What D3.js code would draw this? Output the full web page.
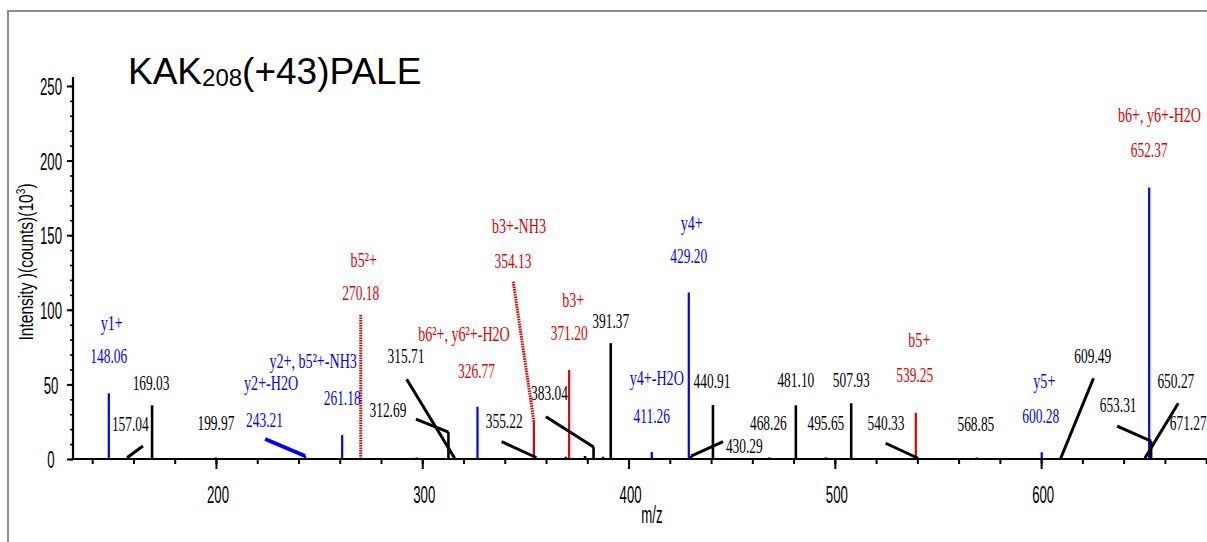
<!DOCTYPE html>
<html>
<head>
<meta charset="utf-8">
<script src="https://cdn.jsdelivr.net/npm/d3@7"></script>
<style>
  html, body { margin: 0; padding: 0; background: #fff; }
  svg { display: block; }
</style>
</head>
<body>
<svg id="chart" width="1207" height="542"></svg>
<script>
// MS/MS spectrum of KAK208(+43)PALE: fragment m/z, intensity (x10^3 counts)
const peakMz = [148.06, 157.04, 169.03, 199.97, 243.21, 261.18, 270.18, 297.30,
  312.69, 315.71, 326.77, 354.13, 355.22, 369.60, 371.20, 378.90, 383.04, 387.60,
  391.37, 411.26, 429.20, 430.29, 440.91, 468.26, 481.10, 495.65, 507.93, 539.25,
  540.33, 568.85, 600.28, 609.49, 650.27, 652.37, 653.31, 671.27];
const peakIntensity = [44, 1, 36, 1, 2, 16, 96.6, 1,
  18, 0.5, 35, 25, 1, 1.5, 59.7, 2, 8, 1.5,
  77.6, 4.7, 111.6, 2, 36.2, 1, 36, 1, 37.4, 31,
  0.5, 1, 4.5, 0.5, 0.5, 182, 12, 0.5];
// fragment series of each peak: y ions, b ions, or unassigned
const peakSeries = ["y", "-", "-", "-", "y", "y", "b", "-",
  "-", "-", "y", "b", "-", "-", "b", "-", "-", "-",
  "-", "y", "y", "-", "-", "-", "-", "-", "-", "b",
  "-", "-", "y", "-", "-", "y", "-", "-"];

// assigned ion names and the series used for the name's colour
const ionMz = [148.06, 243.21, 261.18, 270.18, 326.77, 354.13, 371.20, 411.26, 429.20, 539.25, 600.28, 652.37];
const ionName = ["y1+", "y2+-H2O", "y2+, b5\u00b2+-NH3", "b5\u00b2+", "b6\u00b2+, y6\u00b2+-H2O", "b3+-NH3",
  "b3+", "y4+-H2O", "y4+", "b5+", "y5+", "b6+, y6+-H2O"];
const ionSeries = ["y", "y", "y", "b", "b", "b", "b", "y", "y", "b", "y", "b"];

const xTicks = [200, 300, 400, 500, 600];
const yTicks = [0, 50, 100, 150, 200, 250];

// label placement (pixel offsets from each peak top): number label, ion name, leader end
const labelLayout = [
  { mz: 148.06, dx: 0, dy: -30, ix: 3, iy: -63 },
  { mz: 157.04, dx: 3, dy: -26.5, lx: 15.6, ly: -11.5 },
  { mz: 169.03, dx: -1, dy: -15 },
  { mz: 199.97, dx: 0, dy: -27.5 },
  { mz: 243.21, dx: -40.6, dy: -29, ix: -34, iy: -66, lx: -40, ly: -17, thick: true },
  { mz: 261.18, dx: 0, dy: -30, ix: -29, iy: -67 },
  { mz: 270.18, dx: 0, dy: -15, ix: 3, iy: -48 },
  { mz: 312.69, dx: -60.5, dy: -15.4, lx: -32.5, ly: -13 },
  { mz: 315.71, dx: -48.7, dy: -95, lx: -48, ly: -79 },
  { mz: 326.77, dx: -1, dy: -29, ix: -13.5, iy: -66 },
  { mz: 354.13, dx: -21, dy: -153.7, ix: -15, iy: -188.7, lx: -20.7, ly: -140, dotted: true },
  { mz: 355.22, dx: -32, dy: -29.5, lx: -34.5, ly: -15.8 },
  { mz: 371.20, dx: 0, dy: -30, ix: 4, iy: -63 },
  { mz: 383.04, dx: -44, dy: -47, lx: -47.6, ly: -30.4 },
  { mz: 391.37, dx: 0, dy: -15 },
  { mz: 411.26, dx: 0, dy: -29, ix: 5, iy: -67 },
  { mz: 429.20, dx: 0, dy: -29.5, ix: 3, iy: -62.5 },
  { mz: 430.29, dx: 53.3, dy: -3, lx: 32, ly: -14.3 },
  { mz: 440.91, dx: -1, dy: -17 },
  { mz: 468.26, dx: -1, dy: -27.5 },
  { mz: 481.10, dx: 0, dy: -18.3 },
  { mz: 495.65, dx: 0, dy: -27.5 },
  { mz: 507.93, dx: 0, dy: -16.2 },
  { mz: 539.25, dx: -1, dy: -31, ix: 3.5, iy: -66 },
  { mz: 540.33, dx: -32, dy: -28.3, lx: -32.4, ly: -15 },
  { mz: 568.85, dx: -1, dy: -26.5 },
  { mz: 600.28, dx: -1, dy: -29.3, ix: 2.6, iy: -64.3 },
  { mz: 609.49, dx: 32, dy: -95.3, lx: 32.8, ly: -80 },
  { mz: 650.27, dx: 31, dy: -70.3, lx: 33.4, ly: -55 },
  { mz: 652.37, dx: 0, dy: -30.8, ix: 10.3, iy: -65.8 },
  { mz: 653.31, dx: -33, dy: -29.4, lx: -34, ly: -15 },
  { mz: 671.27, dx: 0, dy: -28.3 }
];

const seriesColor = { y: "#0000ff", b: "#e00000", "-": "#000000" };

const svg = d3.select("#chart");
const W = 1207, H = 542;
const plot = { left: 73, right: 1207, top: 77, bottom: 459 };

const x = d3.scaleLinear().domain([130.7, 680.4]).range([plot.left, plot.right]);
const y = d3.scaleLinear().domain([0, 256]).range([plot.bottom, plot.top]);

svg.append("rect").attr("width", W).attr("height", H).attr("fill", "#fff");

// outer frame (top and left edges)
svg.append("path")
  .attr("d", "M8,542 L8,11 L1207,11")
  .attr("fill", "none").attr("stroke", "#8c8c8c").attr("stroke-width", 2);

const peaks = peakMz.map((m, i) => ({ mz: m, v: peakIntensity[i], s: peakSeries[i] }));

// spectrum sticks (the b5 2+ stick is drawn dotted)
svg.append("g").selectAll("line").data(peaks).join("line")
  .attr("x1", d => x(d.mz)).attr("x2", d => x(d.mz))
  .attr("y1", y(0)).attr("y2", d => y(d.v))
  .attr("stroke", d => seriesColor[d.s])
  .attr("stroke-dasharray", d => d.mz === 270.18 ? "1.6,0.9" : null)
  .attr("stroke-width", d => d.mz === 270.18 ? 3 : (d.s === "-" ? 2.6 : 2.2));

const peakByMz = new Map(peaks.map(p => [p.mz, p]));

// axes
const xAxisG = svg.append("g").attr("transform", `translate(0,${plot.bottom})`);
xAxisG.call(d3.axisBottom(x).tickValues(d3.range(140, 681, 20)).tickSize(5).tickFormat("").tickSizeOuter(0));
xAxisG.call(g => g.select(".domain").remove());
const xMajor = svg.append("g").attr("transform", `translate(0,${plot.bottom})`)
  .call(d3.axisBottom(x).tickValues(xTicks).tickSize(10).tickSizeOuter(0));
xMajor.select(".domain").attr("stroke-width", 2.2).attr("d", `M${plot.left},0H${plot.right}`);
svg.selectAll("g.tick line").attr("stroke-width", 2);
xMajor.selectAll(".tick text")
  .attr("y", 44).attr("dy", 0)
  .attr("transform", "translate(1.5,0) scale(0.55,1)")
  .style("font-family", "'Liberation Sans', Arial, sans-serif")
  .style("font-size", "24px").attr("fill", "#000");

const yMinor = svg.append("g").attr("transform", `translate(${plot.left},0)`)
  .call(d3.axisLeft(y).tickValues(d3.range(0, 256, 10)).tickSize(3).tickFormat("").tickSizeOuter(0));
yMinor.select(".domain").remove();
yMinor.selectAll("line").attr("stroke-width", 1.6);
const yMajor = svg.append("g").attr("transform", `translate(${plot.left},0)`)
  .call(d3.axisLeft(y).tickValues(yTicks).tickSize(6).tickSizeOuter(0));
yMajor.select(".domain").attr("stroke-width", 2.2).attr("d", `M0,${plot.top}V${plot.bottom}`);
yMajor.selectAll("line").attr("stroke-width", 2);
yMajor.selectAll(".tick text")
  .attr("x", 0).attr("dy", "0.36em")
  .attr("text-anchor", "middle")
  .attr("transform", "translate(-22,0) scale(0.55,1)")
  .style("font-family", "'Liberation Sans', Arial, sans-serif")
  .style("font-size", "24px").attr("fill", "#000");

// axis titles
svg.append("text")
  .attr("transform", `translate(652,523) scale(0.55,1)`)
  .attr("text-anchor", "middle")
  .style("font-family", "'Liberation Sans', Arial, sans-serif")
  .style("font-size", "24px")
  .text("m/z");

const yTitle = svg.append("text")
  .attr("transform", "translate(33,262) rotate(-90) scale(0.78,1)")
  .attr("text-anchor", "middle")
  .style("font-family", "'Liberation Sans', Arial, sans-serif")
  .style("font-size", "20px");
yTitle.append("tspan").text("Intensity )(counts)(10");
yTitle.append("tspan").attr("dy", -8).style("font-size", "13px").text("3");
yTitle.append("tspan").attr("dy", 8).text(")");

// chart title
const title = svg.append("text")
  .attr("x", 128).attr("y", 84)
  .style("font-family", "'Liberation Sans', Arial, sans-serif")
  .style("font-size", "37px");
title.append("tspan").text("KAK");
title.append("tspan").attr("dy", 2).style("font-size", "24px").text("208");
title.append("tspan").attr("dy", -2).text("(+43)PALE");

// leader lines from peak tops to their labels
const leaders = labelLayout.filter(l => l.lx !== undefined);
svg.append("g").selectAll("line").data(leaders).join("line")
  .attr("x1", l => x(l.mz)).attr("y1", l => y(peakByMz.get(l.mz).v))
  .attr("x2", l => x(l.mz) + l.lx).attr("y2", l => y(peakByMz.get(l.mz).v) + l.ly)
  .attr("stroke", l => l.thick ? "#0000ff" : (l.dotted ? "#e00000" : "#000"))
  .attr("stroke-width", l => l.thick ? 4 : 3)
  .attr("stroke-dasharray", l => l.dotted ? "1.6,0.9" : null);

// labels: m/z value and assigned ion name
const serif = "'Liberation Serif', 'Times New Roman', serif";
const labelG = svg.append("g");
labelLayout.forEach(l => {
  const p = peakByMz.get(l.mz);
  const px = x(p.mz), py = y(p.v);
  const ionIdx = ionMz.indexOf(l.mz);
  const col = ionIdx >= 0 ? seriesColor[ionSeries[ionIdx]] : "#000";
  labelG.append("text")
    .attr("transform", `translate(${px + l.dx},${py + l.dy}) scale(0.61,1)`)
    .attr("text-anchor", "middle")
    .style("font-family", serif).style("font-size", "22px")
    .attr("fill", col)
    .text(p.mz.toFixed(2));
  if (ionIdx >= 0) {
    labelG.append("text")
      .attr("transform", `translate(${px + l.ix},${py + l.iy}) scale(0.64,1)`)
      .attr("text-anchor", "middle")
      .style("font-family", serif).style("font-size", "22px")
      .attr("fill", col)
      .text(ionName[ionIdx]);
  }
});
</script>
</body>
</html>
